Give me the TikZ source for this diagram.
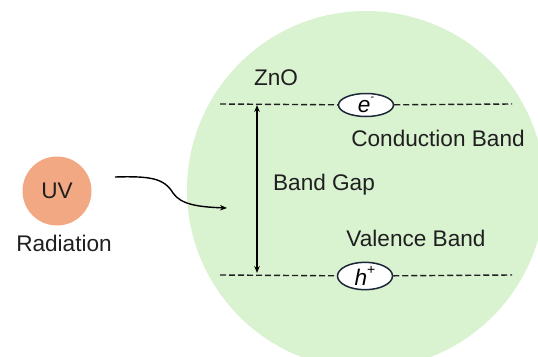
\documentclass[tikz,border=0pt]{standalone}
\usepackage{fontspec}
\setmainfont{Liberation Sans}
\usetikzlibrary{arrows.meta,shapes.geometric}
\definecolor{zgreen}{HTML}{D9F2D0}
\definecolor{uvsalmon}{HTML}{F2A882}
\definecolor{edgeblue}{HTML}{1C2737}
\tikzset{
  lbl/.style={font=\fontsize{22.6}{26}\selectfont, inner sep=0pt, text=black!88},
  carrier/.style={ellipse, draw=edgeblue, line width=1.5pt, fill=white, minimum width=55pt, minimum height=23pt, inner sep=0pt, font=\fontsize{22.6}{26}\selectfont},
  bandline/.style={line width=1.4pt, dash pattern=on 6pt off 3pt, black!88},
  gaparrow/.style={line width=1.4pt, {Stealth[length=7pt,width=5.5pt]}-{Stealth[length=7pt,width=5.5pt]}},
  uvarrow/.style={line width=1.4pt, -{Stealth[length=7pt,width=5.5pt]}}
}
\begin{document}
\begin{tikzpicture}[x=1pt,y=-1pt]
\useasboundingbox (0,0) rectangle (538,356);
\begin{scope}
\clip (0,0) rectangle (538,356);
\fill[zgreen] (366,190) circle[radius=179];
\end{scope}
% UV source
\node[circle, fill=uvsalmon, minimum size=69pt, inner sep=0pt, font=\fontsize{22.6}{26}\selectfont, text=black!88] (uv) at (57,191) {UV};
\node[lbl] (rad) at (64,243) {Radiation};
% curved arrow
\coordinate (as) at (115,177);
\coordinate (am) at (173,193);
\coordinate (at) at (227,208);
\draw[uvarrow] (as) .. controls (150,176) and (164,178) .. (am) .. controls (181,205) and (200,207) .. (at);
% bands
\coordinate (cl) at (220,104);
\coordinate (cr) at (512,104);
\coordinate (vl) at (220,275);
\coordinate (vr) at (512,275);
\node[carrier] (e) at (366,105) {\itshape e\raisebox{0.55em}{\fontsize{11}{12}\selectfont -}};
\node[carrier] (h) at (365,276) {\itshape h\raisebox{0.5em}{\fontsize{14}{15}\selectfont\upshape +}};
\draw[bandline] (cl) -- (e);
\draw[bandline] (e) -- (cr);
\draw[bandline] (vl) -- (h);
\draw[bandline] (h) -- (vr);
% band gap arrow
\coordinate (gt) at (257,105);
\coordinate (gb) at (257,273);
\draw[gaparrow] (gt) -- (gb);
% labels
\node[lbl] (zno) at (276,78) {ZnO};
\node[lbl] (cb) at (438,138) {Conduction Band};
\node[lbl] (bg) at (324,185) {Band Gap};
\node[lbl] (vb) at (416,238) {Valence Band};
\end{tikzpicture}
\end{document}
